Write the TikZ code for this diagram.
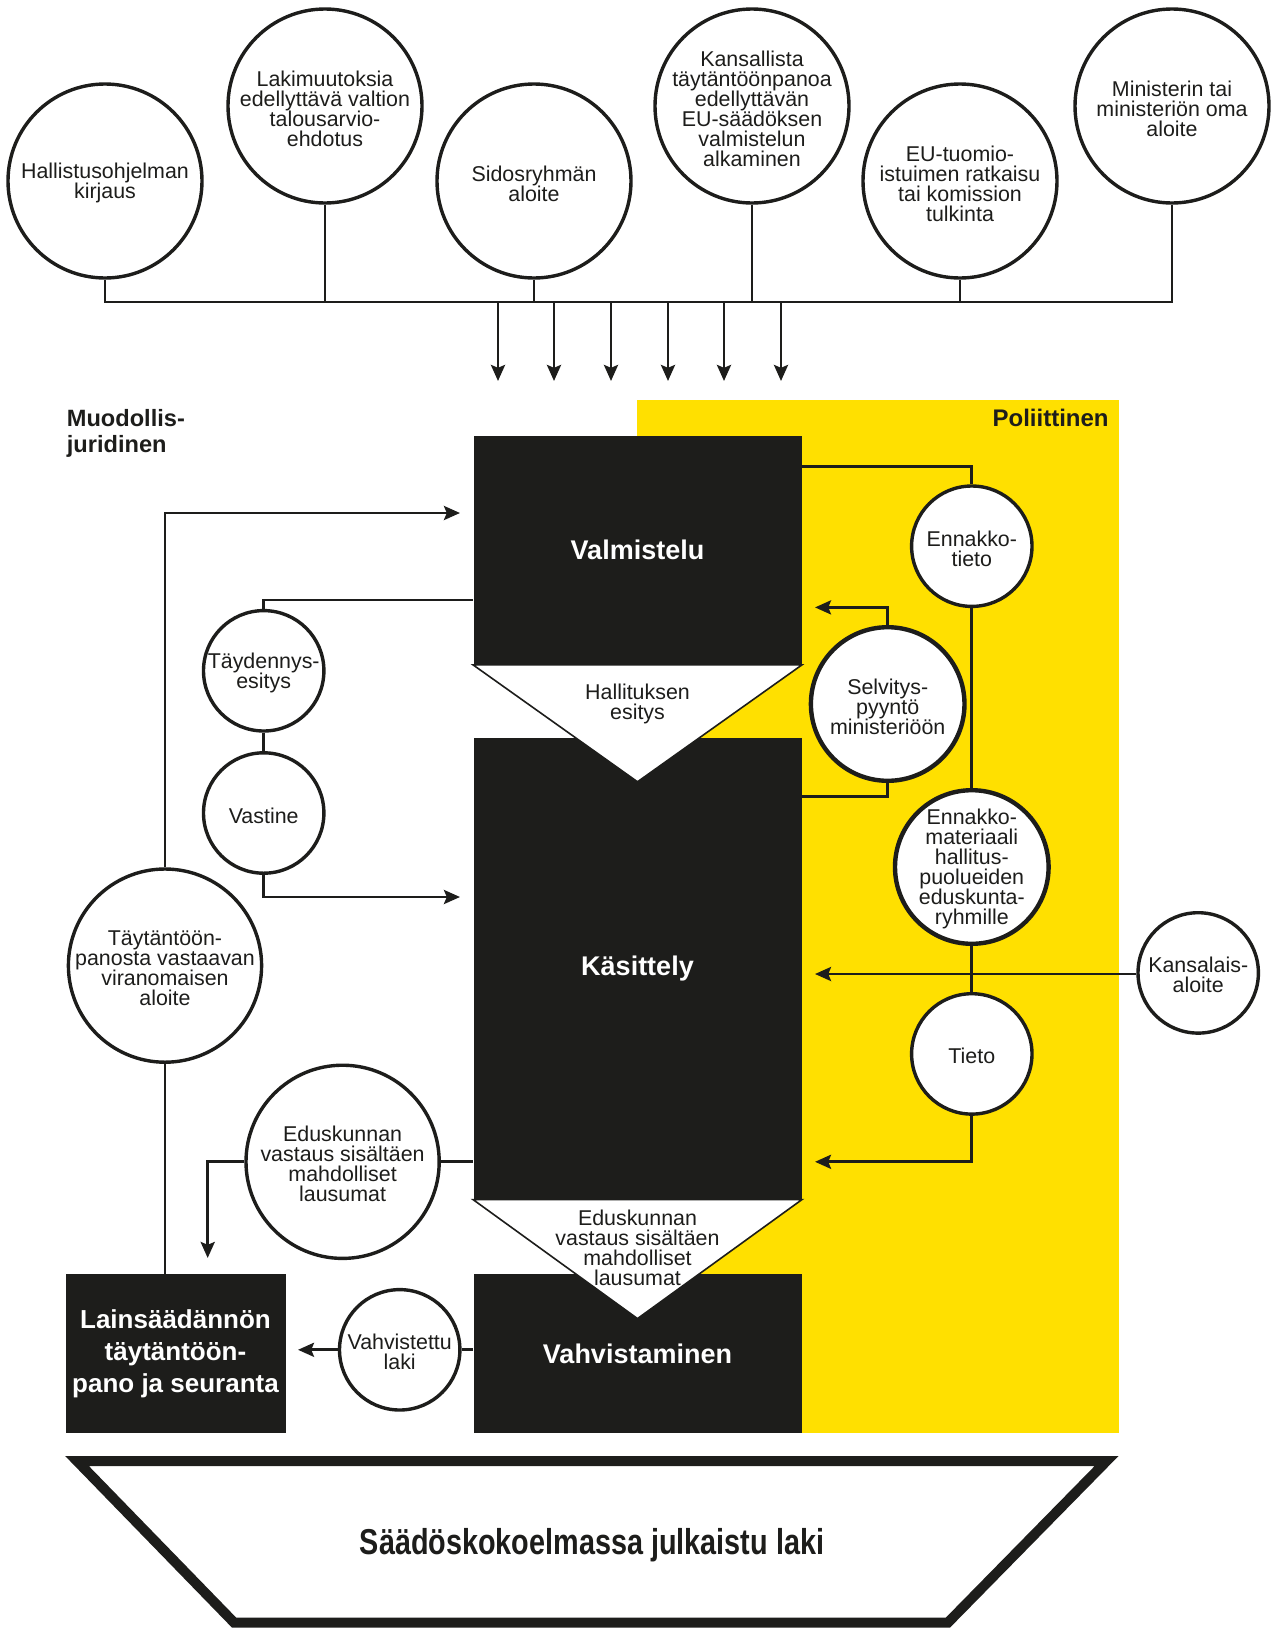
\documentclass[tikz,border=0pt]{standalone}
\usepackage{fontspec}
\setmainfont{Liberation Sans}
\usepackage{graphicx}
\usetikzlibrary{arrows.meta}
\definecolor{ink}{HTML}{1D1D1B}
\definecolor{sun}{HTML}{FFE000}

\begin{document}
\begin{tikzpicture}[x=0.5pt, y=-0.5pt,
  ring/.style={circle, draw=ink, line width=1.7pt, fill=white, inner sep=0pt, minimum size=#1},
  thickring/.style={ring=#1, line width=2.2pt},
  lbl/.style={font=\fontsize{10.7}{10}\selectfont, align=center, text=ink, inner sep=0pt, yshift=-1.2pt},
  conn/.style={draw=ink, line width=1.45pt},
  arr/.style={conn, -{Stealth[length=8pt, width=7pt, inset=1.4pt]}},
  blk/.style={fill=ink, draw=none, inner sep=0pt, text=white, align=center,
              font=\bfseries\fontsize{13.5}{16}\selectfont},
  side/.style={font=\bfseries\fontsize{11.8}{13}\selectfont, text=ink, inner sep=0pt},
  wedge/.style={fill=white, draw=ink, line width=0.8pt, line join=miter}
]
\useasboundingbox (0,0) rectangle (1273,1628);

% political band
\fill[sun] (636.5,399.7) rectangle (1119.3,1432.9);

% main process blocks
\node[blk, minimum width=164pt, minimum height=114.25pt] (valm) at (637.5,550.25) {Valmistelu};
\node[blk, minimum width=164pt, minimum height=230.5pt] (kas) at (637.5,968.7) {Käsittely};
\node[blk, minimum width=164pt, minimum height=79.45pt] (vah) at (637.5,1353.5) {Vahvistaminen};
\node[blk, minimum width=110pt, minimum height=79.45pt, font=\bfseries\fontsize{13}{16}\selectfont]
  (lain) at (175.5,1353.5) {Lainsäädännön\\täytäntöön-\\pano ja seuranta};

% hand-over wedges between the blocks
\coordinate (apex1) at (637.5,781.8);
\coordinate (apex2) at (637.5,1318.6);
\filldraw[wedge] (valm.south west) -- (valm.south east) -- (apex1) -- cycle;
\filldraw[wedge] (kas.south west) -- (kas.south east) -- (apex2) -- cycle;
\node[lbl] (hesitys) at (637.5,702) {Hallituksen\\esitys};
\node[lbl] (evast) at (637.5,1245.4) {Eduskunnan\\vastaus sisältäen\\mahdolliset\\lausumat};

% column headings
\node[side, anchor=north west, align=left] (muod) at (66.5,409) {Muodollis-\\juridinen};
\node[side, anchor=north east, font=\bfseries\fontsize{12}{13}\selectfont] (pol) at (1109,409) {Poliittinen};

% initiatives along the top
\node[ring=97pt] (c1) at (105,181) {};
\node[ring=97pt] (c2) at (325,106) {};
\node[ring=97pt] (c3) at (534,181) {};
\node[ring=97pt] (c4) at (752,106) {};
\node[ring=97pt] (c5) at (960,181) {};
\node[ring=97pt] (c6) at (1172,106) {};

\coordinate (bus) at (0,302);
\draw[conn] (c1.south) |- (c6.south |- bus) -- (c6.south);
\foreach \n in {c2,c3,c4,c5} \draw[conn] (\n.south) -- (\n.south |- bus);
\foreach \x [count=\i] in {498,554,611,668,724,781} {
  \coordinate (drop\i) at (\x,381);
  \draw[arr] (drop\i |- bus) -- (drop\i);
}

\node[lbl] (c1t) at (c1) {Hallistusohjelman\\kirjaus};
\node[lbl] (c2t) at (c2) {Lakimuutoksia\\edellyttävä valtion\\talousarvio-\\ehdotus};
\node[lbl] (c3t) at (c3) {Sidosryhmän\\aloite};
\node[lbl] (c4t) at (c4) {Kansallista\\täytäntöönpanoa\\edellyttävän\\EU-säädöksen\\valmistelun\\alkaminen};
\node[lbl] (c5t) at (c5) {EU-tuomio-\\istuimen ratkaisu\\tai komission\\tulkinta};
\node[lbl] (c6t) at (c6) {Ministerin tai\\ministeriön oma\\aloite};

% left-hand side circles
\node[ring=96.6pt] (tp) at (165,965.6) {};
\node[ring=60.2pt] (td) at (263.7,670.8) {};
\node[ring=60.2pt] (va) at (263.7,813) {};
\node[ring=96.6pt] (ed) at (342.6,1161.8) {};
\node[ring=60.2pt] (vl) at (399.7,1349.8) {};

% right-hand side circles
\node[ring=60.2pt] (et) at (971.8,546.2) {};
\node[thickring=76.8pt] (sp) at (887.7,704) {};
\node[thickring=76.8pt] (em) at (971.8,867) {};
\node[ring=60.2pt] (ka) at (1198.2,972.9) {};
\node[ring=60.2pt] (ti) at (971.8,1053.9) {};

% arrow end points and branch heights
\coordinate (inV) at (460,513);
\coordinate (inK) at (460,897);
\coordinate (inL) at (207.7,1258);
\coordinate (inL2) at (298,1349.8);
\coordinate (inVr) at (815,607.4);
\coordinate (inKa) at (815,974);
\coordinate (inKb) at (815,1161.8);
\coordinate (tdy) at (0,600);
\coordinate (ety) at (0,466.2);
\coordinate (spy) at (0,796.4);

% left-hand connectors
\draw[arr] (tp.north) |- (inV);
\draw[conn] (tp.south) -- (tp.south |- lain.north);
\draw[conn] (valm.west |- tdy) -| (td.north);
\draw[conn] (td.south) -- (va.north);
\draw[arr] (va.south) |- (inK);
\draw[conn] (kas.west |- ed.east) -- (ed.east);
\draw[arr] (ed.west) -| (inL);
\draw[conn] (vah.west |- vl.east) -- (vl.east);
\draw[arr] (vl.west) -- (inL2);

% right-hand connectors
\draw[conn] (valm.east |- ety) -| (et.north);
\draw[conn] (et.south) -- (em.north);
\draw[arr] (sp.north) |- (inVr);
\draw[conn] (sp.south) |- (kas.east |- spy);
\draw[conn] (em.south) -- (ti.north);
\draw[arr] (ka.west |- inKa) -- (inKa);
\draw[arr] (ti.south) |- (inKb);

% circle texts
\node[lbl] (tpt) at (tp) {Täytäntöön-\\panosta vastaavan\\viranomaisen\\aloite};
\node[lbl] (tdt) at (td) {Täydennys-\\esitys};
\node[lbl] (vat) at (va) {Vastine};
\node[lbl] (edt) at (ed) {Eduskunnan\\vastaus sisältäen\\mahdolliset\\lausumat};
\node[lbl] (vlt) at (vl) {Vahvistettu\\laki};
\node[lbl] (ett) at (et) {Ennakko-\\tieto};
\node[lbl] (spt) at (sp) {Selvitys-\\pyyntö\\ministeriöön};
\node[lbl] (emt) at (em) {Ennakko-\\materiaali\\hallitus-\\puolueiden\\eduskunta-\\ryhmille};
\node[lbl] (kat) at (ka) {Kansalais-\\aloite};
\node[lbl] (tit) at (ti) {Tieto};

% statute book
\draw[ink, line width=5pt, line join=miter] (77,1461) -- (1106.6,1461) -- (948,1622.5) -- (234,1622.5) -- cycle;
\node[font=\bfseries\fontsize{18}{20}\selectfont, text=ink, inner sep=0pt] (pub) at (592,1545)
  {\scalebox{0.8}[1]{Säädöskokoelmassa julkaistu laki}};
\end{tikzpicture}
\end{document}
